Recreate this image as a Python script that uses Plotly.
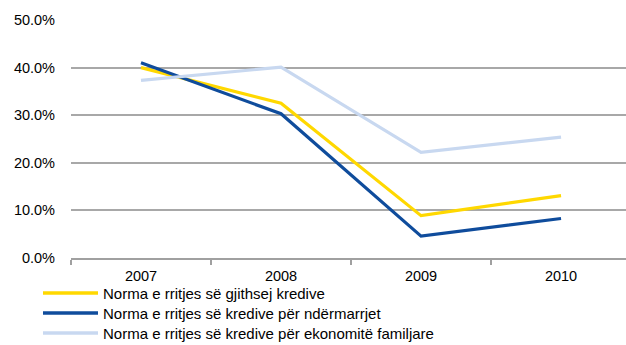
import plotly.graph_objects as go

years = ["2007", "2008", "2009", "2010"]
total_growth = [40.0, 32.5, 8.9, 13.1]
enterprise_growth = [41.0, 30.3, 4.6, 8.3]
household_growth = [37.3, 40.1, 22.2, 25.4]

series_names = [
    "Norma e rritjes së gjithsej kredive",
    "Norma e rritjes së kredive për ndërmarrjet",
    "Norma e rritjes së kredive për ekonomitë familjare",
]
series_values = [total_growth, enterprise_growth, household_growth]
series_colors = ["#FFD800", "#0F4C9C", "#C8D8F0"]

W, H = 626, 345
M_L, M_R, M_T, M_B = 71, 0, 20, 87
plot_w = W - M_L - M_R
plot_h = H - M_T - M_B

fig = go.Figure()
for name, vals, color in zip(series_names, series_values, series_colors):
    fig.add_trace(go.Scatter(
        x=years, y=vals, name=name, mode="lines",
        line=dict(color=color, width=3.2),
        showlegend=False,
    ))

# legend drawn below the axis: long line key + label per series
def px_x(px):
    return (px - M_L) / plot_w

def px_y(py):
    return (H - M_B - py) / plot_h

row_y = [293, 313, 333]
for name, color, ry in zip(series_names, series_colors, row_y):
    fig.add_shape(type="line", xref="paper", yref="paper",
                  x0=px_x(43), x1=px_x(98), y0=px_y(ry), y1=px_y(ry),
                  line=dict(color=color, width=3.5))
    fig.add_annotation(xref="paper", yref="paper", x=px_x(101), y=px_y(ry),
                       xanchor="left", yanchor="middle", text=name,
                       showarrow=False, font=dict(size=15))

fig.update_layout(
    width=W, height=H,
    margin=dict(l=M_L, r=M_R, t=M_T, b=M_B),
    paper_bgcolor="white", plot_bgcolor="white",
    font=dict(family="Liberation Sans, Arial, sans-serif", size=14, color="#000000"),
    xaxis=dict(
        type="category", range=[-0.5, 3.464],
        showgrid=False, showline=True, linecolor="#A0A0A0", linewidth=2,
        ticks="outside", ticklen=5, tickcolor="#A0A0A0", tickwidth=1.5,
        tickson="boundaries", zeroline=False, ticklabelstandoff=4,
        tickfont=dict(size=14.5),
    ),
    yaxis=dict(
        range=[0, 50], dtick=10, tickformat=".1f", ticksuffix="%",
        showgrid=True, gridcolor="#A8A8A8", gridwidth=2.2,
        zeroline=False, showline=False, ticks="", ticklabelstandoff=15,
        tickfont=dict(size=14.5),
    ),
)

fig.write_html("out.html")
